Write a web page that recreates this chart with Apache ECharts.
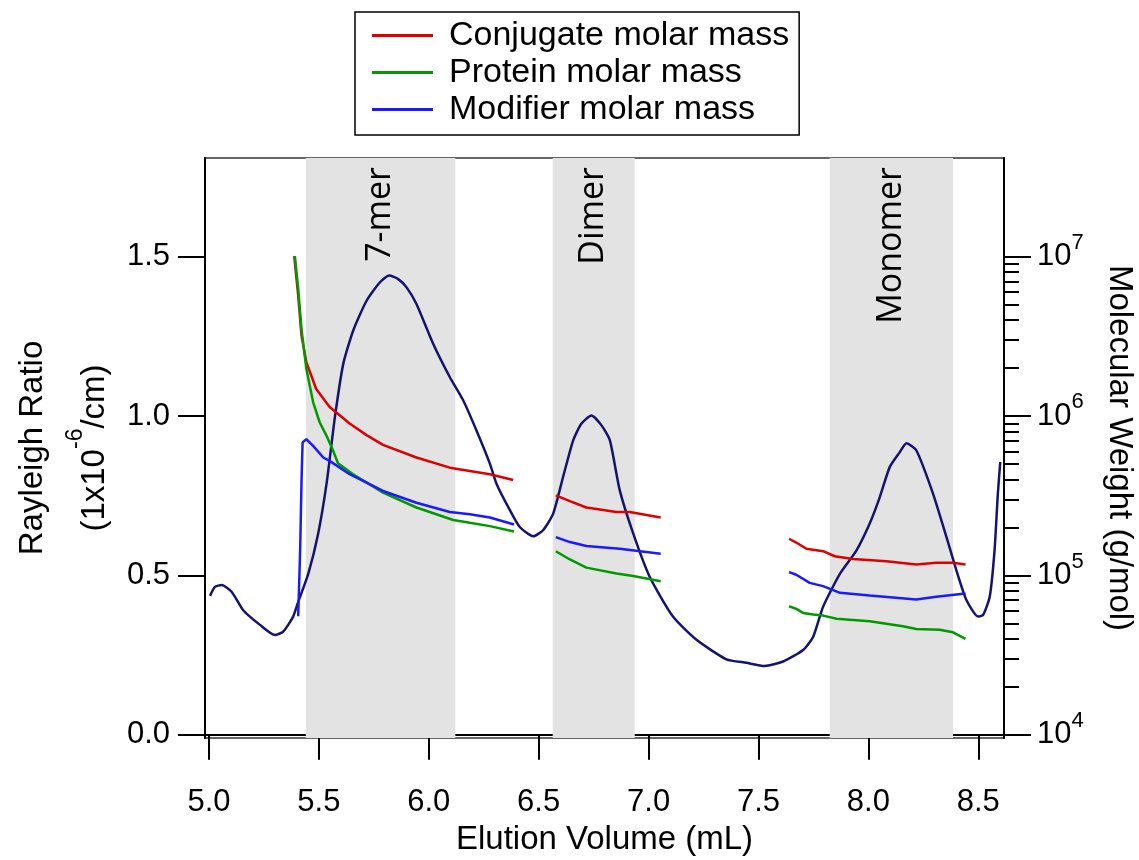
<!DOCTYPE html>
<html lang="en">
<head>
    <meta charset="utf-8">
    <title>Rayleigh ratio and molar mass</title>
    <script src="https://cdn.jsdelivr.net/npm/echarts@6/dist/echarts.min.js"></script>
</head>
<body style="margin: 0">
<div id="container" style="width: 1139px; height: 860px"></div>
<script type="text/javascript">
    // Rayleigh ratio trace (left axis)
    var rayleighVol = [5.005, 5.027, 5.058, 5.103, 5.156, 5.232, 5.300, 5.338, 5.383, 5.406, 5.452, 5.497, 5.535, 5.573,
        5.611, 5.656, 5.717, 5.778, 5.820, 5.861, 5.899, 5.944, 6.020, 6.096, 6.157, 6.217, 6.278, 6.308, 6.369, 6.414,
        6.475, 6.520, 6.566, 6.611, 6.657, 6.694, 6.740, 6.786, 6.824, 6.869, 6.930, 7.005, 7.111, 7.218, 7.354, 7.445,
        7.528, 7.612, 7.703, 7.749, 7.794, 7.871, 7.946, 8.006, 8.052, 8.097, 8.143, 8.173, 8.218, 8.294, 8.355, 8.400,
        8.446, 8.499, 8.522, 8.552, 8.574, 8.589, 8.600];
    var rayleighRatio = [0.436, 0.464, 0.470, 0.449, 0.391, 0.345, 0.313, 0.324, 0.371, 0.417, 0.506, 0.632, 0.788, 0.997,
        1.164, 1.268, 1.362, 1.420, 1.441, 1.430, 1.404, 1.352, 1.227, 1.122, 1.049, 0.955, 0.851, 0.788, 0.705, 0.652,
        0.623, 0.642, 0.694, 0.809, 0.924, 0.976, 1.002, 0.971, 0.924, 0.767, 0.632, 0.496, 0.371, 0.298, 0.237, 0.226,
        0.216, 0.230, 0.266, 0.308, 0.402, 0.506, 0.579, 0.663, 0.746, 0.840, 0.887, 0.915, 0.893, 0.757, 0.621, 0.517,
        0.423, 0.371, 0.376, 0.433, 0.579, 0.757, 0.856];

    // molar masses (right axis, g/mol); null splits the three peaks
    var conjVol = [5.388, 5.406, 5.421, 5.443, 5.488, 5.549, 5.640, 5.717, 5.792, 5.944, 6.096, 6.187, 6.278, 6.384, 6.48,
        6.578, 6.642, 6.717, 6.854, 6.914, 7.055, 7.35,
        7.639, 7.672, 7.718, 7.794, 7.847, 7.930, 8.082, 8.218, 8.309, 8.385, 8.442];
    var conjMass = [1.01e7, 5.71e6, 3.20e6, 2.18e6, 1.48e6, 1.14e6, 9.0e5, 7.6e5, 6.6e5, 5.5e5, 4.75e5, 4.53e5, 4.32e5, 3.97e5, null,
        3.18e5, 2.93e5, 2.67e5, 2.50e5, 2.50e5, 2.31e5, null,
        1.70e5, 1.61e5, 1.47e5, 1.42e5, 1.32e5, 1.27e5, 1.23e5, 1.17e5, 1.20e5, 1.20e5, 1.17e5];

    var protVol = [5.391, 5.406, 5.421, 5.443, 5.474, 5.504, 5.535, 5.565, 5.587, 5.656, 5.792, 5.944, 6.111, 6.187, 6.278, 6.388, 6.48,
        6.578, 6.642, 6.717, 6.854, 6.930, 7.055, 7.35,
        7.639, 7.672, 7.703, 7.749, 7.794, 7.855, 8.006, 8.157, 8.218, 8.324, 8.385, 8.442];
    var protMass = [1.01e7, 6.30e6, 3.52e6, 1.98e6, 1.22e6, 9.12e5, 7.52e5, 6.06e5, 5.06e5, 4.32e5, 3.31e5, 2.67e5, 2.23e5, 2.14e5, 2.04e5, 1.89e5, null,
        1.42e5, 1.26e5, 1.12e5, 1.03e5, 9.91e4, 9.20e4, null,
        6.41e4, 6.17e4, 5.82e4, 5.69e4, 5.60e4, 5.35e4, 5.16e4, 4.80e4, 4.62e4, 4.57e4, 4.40e4, 4.00e4];

    var modVol = [5.406, 5.415, 5.421, 5.426, 5.443, 5.474, 5.520, 5.549, 5.640, 5.792, 5.944, 6.096, 6.187, 6.278, 6.388, 6.48,
        6.578, 6.642, 6.717, 6.869, 7.055, 7.35,
        7.639, 7.672, 7.733, 7.794, 7.871, 8.006, 8.218, 8.309, 8.442];
    var modMass = [5.55e4, 1.46e5, 3.83e5, 6.84e5, 7.16e5, 6.50e5, 5.50e5, 5.24e5, 4.32e5, 3.39e5, 2.86e5, 2.50e5, 2.42e5, 2.31e5, 2.09e5, null,
        1.74e5, 1.62e5, 1.53e5, 1.47e5, 1.37e5, null,
        1.05e5, 1.01e5, 8.99e4, 8.57e4, 7.78e4, 7.48e4, 7.06e4, 7.35e4, 7.71e4];

    // shaded elution windows
    var bandNames = ['7-mer', 'Dimer', 'Monomer'];
    var bandStart = [5.441, 6.564, 7.824];
    var bandEnd = [6.121, 6.937, 8.385];

    // axis ticks
    var xTicks = [5.0, 5.5, 6.0, 6.5, 7.0, 7.5, 8.0, 8.5];
    var leftTicks = [0, 0.5, 1.0, 1.5];
    var rightMajor = [1e4, 1e5, 1e6, 1e7];
    var rightMinor = [2e4, 3e4, 4e4, 5e4, 6e4, 7e4, 8e4, 9e4, 2e5, 3e5, 4e5, 5e5, 6e5, 7e5, 8e5, 9e5,
        2e6, 3e6, 4e6, 5e6, 6e6, 7e6, 8e6, 9e6];

    var seriesNames = ['Conjugate molar mass', 'Protein molar mass', 'Modifier molar mass'];

    function pairs(xs, ys) {
        var out = [];
        for (var i = 0; i < xs.length; i++) {
            out.push([xs[i], ys[i]]);
        }
        return out;
    }

    var font = 'Liberation Sans';
    var yMin = -0.01, yMax = 1.81;
    // right log axis lined up with left: 1e4 at 0, one decade per 0.5
    var logMin = Math.pow(10, 4 + 2 * yMin), logMax = Math.pow(10, 4 + 2 * yMax);

    var bands = [];
    for (var i = 0; i < bandNames.length; i++) {
        bands.push([{name: bandNames[i], xAxis: bandStart[i]}, {xAxis: bandEnd[i]}]);
    }

    var myChart = echarts.init(document.getElementById('container'));
    var option = {
        animation: false,
        backgroundColor: '#fff',
        textStyle: {fontFamily: font},
        grid: {left: 205, right: 135, top: 158, bottom: 122, show: true, borderColor: '#333', borderWidth: 1.5,
            outerBoundsMode: 'none'},
        legend: {
            data: seriesNames,
            orient: 'vertical',
            left: 355, top: 12,
            padding: [5, 10, 7, 17],
            borderColor: '#000', borderWidth: 1.5,
            icon: 'rect', itemWidth: 61, itemHeight: 3, itemGap: 0,
            textStyle: {fontSize: 34, lineHeight: 37, color: '#000', fontFamily: font, padding: [0, 0, 0, 11]}
        },
        xAxis: {
            type: 'value', min: 4.982, max: 8.617,
            name: 'Elution Volume (mL)', nameLocation: 'middle', nameGap: 85,
            nameTextStyle: {fontSize: 33, color: '#000', fontFamily: font},
            splitLine: {show: false},
            axisLine: {lineStyle: {color: '#000', width: 2}},
            axisTick: {customValues: xTicks, length: 25, lineStyle: {color: '#000', width: 2}},
            axisLabel: {customValues: xTicks, margin: 49, fontSize: 31, color: '#000', fontFamily: font,
                formatter: function (v) { return v.toFixed(1); }}
        },
        yAxis: [{
            type: 'value', min: yMin, max: yMax,
            name: 'Rayleigh Ratio\n(1x10{s|-6}/cm)', nameLocation: 'middle', nameGap: 79, nameMoveOverlap: false,
            nameTextStyle: {fontSize: 33, lineHeight: 62, color: '#000', fontFamily: font,
                rich: {s: {fontSize: 23, lineHeight: 14, verticalAlign: 'top', color: '#000', fontFamily: font}}},
            splitLine: {show: false},
            axisLine: {lineStyle: {color: '#000', width: 2}},
            axisTick: {customValues: leftTicks, length: 27, lineStyle: {color: '#000', width: 2}},
            axisLabel: {customValues: leftTicks, margin: 35, fontSize: 31, color: '#000', fontFamily: font,
                formatter: function (v) { return v.toFixed(1); }}
        }, {
            type: 'log', position: 'right', min: logMin, max: logMax,
            name: 'Molecular Weight (g/mol)', nameLocation: 'middle', nameGap: 99, nameRotate: -90,
            nameTextStyle: {fontSize: 33, color: '#000', fontFamily: font},
            splitLine: {show: false},
            axisLine: {show: true, lineStyle: {color: '#000', width: 2}},
            axisTick: {customValues: rightMajor, length: 27, lineStyle: {color: '#000', width: 2}},
            axisLabel: {customValues: rightMajor, margin: 33, color: '#000',
                formatter: function (v) { return '{b|10}{s|' + Math.round(Math.log10(v)) + '}'; },
                rich: {
                    b: {fontSize: 31, lineHeight: 50, color: '#000', fontFamily: font},
                    s: {fontSize: 22, lineHeight: 20, verticalAlign: 'top', color: '#000', fontFamily: font}
                }}
        }, {
            type: 'log', position: 'right', min: logMin, max: logMax,
            splitLine: {show: false},
            axisLine: {show: false},
            axisTick: {customValues: rightMinor, length: 15, lineStyle: {color: '#000', width: 2}},
            axisLabel: {show: false}
        }],
        series: [{
            name: 'Rayleigh Ratio', type: 'line', yAxisIndex: 0, z: 3,
            data: pairs(rayleighVol, rayleighRatio),
            smooth: 0.2, showSymbol: false, silent: true,
            lineStyle: {color: '#14146e', width: 2.5},
            markArea: {
                silent: true,
                itemStyle: {color: '#e3e3e3'},
                label: {show: true, position: 'insideTop', distance: 9, rotate: 90, align: 'right', verticalAlign: 'middle',
                    fontSize: 34, color: '#000', fontFamily: 'Open Sans'},
                data: bands
            }
        }, {
            name: seriesNames[0], type: 'line', yAxisIndex: 1, z: 4,
            data: pairs(conjVol, conjMass), showSymbol: false, silent: true,
            color: '#dd0000', lineStyle: {color: '#dd0000', width: 2.5}
        }, {
            name: seriesNames[1], type: 'line', yAxisIndex: 1, z: 4,
            data: pairs(protVol, protMass), showSymbol: false, silent: true,
            color: '#009900', lineStyle: {color: '#009900', width: 2.5}
        }, {
            name: seriesNames[2], type: 'line', yAxisIndex: 1, z: 4,
            data: pairs(modVol, modMass), showSymbol: false, silent: true,
            color: '#1a1aff', lineStyle: {color: '#1a1aff', width: 2.5}
        }]
    };
    myChart.setOption(option);
</script>
</body>
</html>
